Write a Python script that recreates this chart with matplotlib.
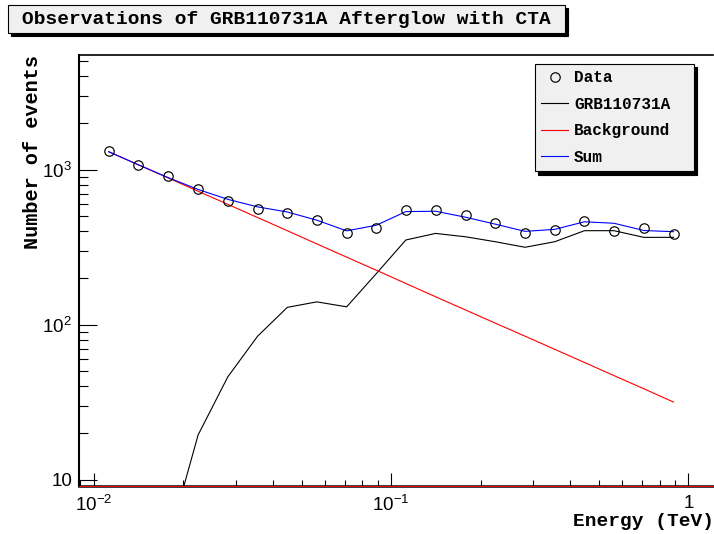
import matplotlib
matplotlib.use('Agg')
import matplotlib.pyplot as plt
from matplotlib.patches import Rectangle
from matplotlib.ticker import LogLocator, NullFormatter
from matplotlib.font_manager import FontProperties

# ---------------- data ----------------
energy = [0.0112, 0.0141, 0.0178, 0.0224, 0.0282, 0.0355, 0.0447, 0.0562, 0.0708, 0.0891,
          0.112, 0.141, 0.178, 0.224, 0.282, 0.355, 0.447, 0.562, 0.708, 0.891]
data_counts = [1322, 1064, 912, 752, 623, 559, 522, 470, 391, 418,
               546, 546, 511, 454, 391, 409, 468, 403, 420, 384]
grb_counts = [0.3, 1.0, 4.0, 19.4, 46, 84, 129, 140, 130, 213,
              351, 387, 368, 342, 315, 342, 403, 403, 365, 365]
bkg_counts = [1303, 1072, 881, 724, 596, 490, 403, 331, 272, 224,
              184, 151, 124, 102, 84.1, 69.2, 56.9, 46.8, 38.5, 31.6]
sum_counts = [1303, 1073, 885, 743, 642, 574, 532, 471, 402, 437,
              535, 538, 492, 444, 399, 411, 460, 450, 404, 397]

series_labels = ['Data', 'GRB110731A', 'Background', 'Sum']
title_text = 'Observations of GRB110731A Afterglow with CTA'
x_title = 'Energy (TeV)'
y_title = 'Number of events'
x_tick_values = [0.01, 0.1, 1]
x_tick_labels = [r'$\mathregular{10^{-2}}$', r'$\mathregular{10^{-1}}$', '1']
y_tick_values = [10, 100, 1000]
y_tick_labels = ['10', r'$\mathregular{10^{2}}$', r'$\mathregular{10^{3}}$']

# ---------------- figure ----------------
W, H = 714, 534
DPI = 100
plt.rcParams['font.family'] = ['Liberation Sans', 'DejaVu Sans']
plt.rcParams['mathtext.default'] = 'regular'

fig = plt.figure(figsize=(W / DPI, H / DPI), dpi=DPI)
fig.patch.set_facecolor('white')

def px(x, y):
    return x / W, 1 - y / H

left, right, top, bottom = 79, 713, 55, 486
ax = fig.add_axes([left / W, 1 - bottom / H, (right - left) / W, (bottom - top) / H])
ax.set_xscale('log')
ax.set_yscale('log')
ax.set_xlim(0.0089, 1.21)
ax.set_ylim(9.08, 5480)

mono_bold = FontProperties(family='Liberation Mono', weight='bold', size=14)
mono_leg = FontProperties(family='Liberation Mono', weight='bold', size=11.5)

l_grb, = ax.plot(energy, grb_counts, color='black', lw=0.8, label=series_labels[1], zorder=3)
l_bkg, = ax.plot(energy, bkg_counts, color='red', lw=0.8, label=series_labels[2], zorder=3)
l_sum, = ax.plot(energy, sum_counts, color='blue', lw=0.8, label=series_labels[3], zorder=4)
l_data, = ax.plot(energy, data_counts, ls='none', marker='o', ms=6.8, mfc='none',
                  mec='black', mew=0.85, label=series_labels[0], zorder=5)

# thin red line along the bottom edge as in the reference
ax.axhline(ax.get_ylim()[0], color='red', lw=0.7, zorder=6, clip_on=False)

# ticks
ax.set_xticks(x_tick_values, x_tick_labels)
ax.set_yticks(y_tick_values, y_tick_labels)
ax.xaxis.set_minor_locator(LogLocator(base=10, subs=[2, 3, 4, 5, 6, 7, 8, 9], numticks=20))
ax.yaxis.set_minor_locator(LogLocator(base=10, subs=[2, 3, 4, 5, 6, 7, 8, 9], numticks=20))
ax.xaxis.set_minor_formatter(NullFormatter())
ax.yaxis.set_minor_formatter(NullFormatter())
ax.tick_params(axis='both', which='both', direction='in', top=False, right=False,
               width=0.8, color='black')
ax.tick_params(axis='x', which='major', length=9.2, pad=6.5, labelsize=13.5)
ax.tick_params(axis='x', which='minor', length=4.4)
ax.tick_params(axis='y', which='major', length=13, pad=5, labelsize=13.5)
ax.tick_params(axis='y', which='minor', length=6.5)

for s in ax.spines.values():
    s.set_linewidth(1.2)
    s.set_color('black')
ax.spines['left'].set_linewidth(1.5)
ax.spines['bottom'].set_linewidth(1.8)
ax.spines['right'].set_visible(False)

# legend
leg = ax.legend([l_data, l_grb, l_bkg, l_sum], series_labels, loc='upper left',
                bbox_to_anchor=(535 / W, 1 - 171 / H, 159 / W, 107 / H),
                bbox_transform=fig.transFigure, mode='expand', prop=mono_leg,
                frameon=True, fancybox=False, edgecolor='black', facecolor='#f0f0f0',
                framealpha=1, shadow={'color': 'black', 'alpha': 1, 'ox': 2.4, 'oy': -2.4},
                borderpad=0.4, handlelength=1.65, handletextpad=0.4,
                labelspacing=0.72, borderaxespad=0)
leg.get_frame().set_linewidth(0.8)

# title box with shadow
tx0, ty0, tx1, ty1 = 8, 5, 565, 33
fig.patches.append(Rectangle(px(tx0 + 3, ty1 + 3), (tx1 - tx0) / W, (ty1 - ty0) / H,
                             transform=fig.transFigure, facecolor='black', edgecolor='black',
                             lw=0.8, zorder=1))
fig.patches.append(Rectangle(px(tx0, ty1), (tx1 - tx0) / W, (ty1 - ty0) / H,
                             transform=fig.transFigure, facecolor='#f0f0f0', edgecolor='black',
                             lw=0.8, zorder=2))
fig.text(*px(22, 19.5), title_text, ha='left', va='center', fontproperties=mono_bold, zorder=3)

# axis titles
fig.text(*px(33, 55), y_title, rotation=90, ha='center', va='top',
         fontproperties=FontProperties(family='Liberation Mono', weight='bold', size=14.5))
fig.text(*px(714, 521), x_title, ha='right', va='center', fontproperties=mono_bold)

fig.savefig('out.png', dpi=DPI)
